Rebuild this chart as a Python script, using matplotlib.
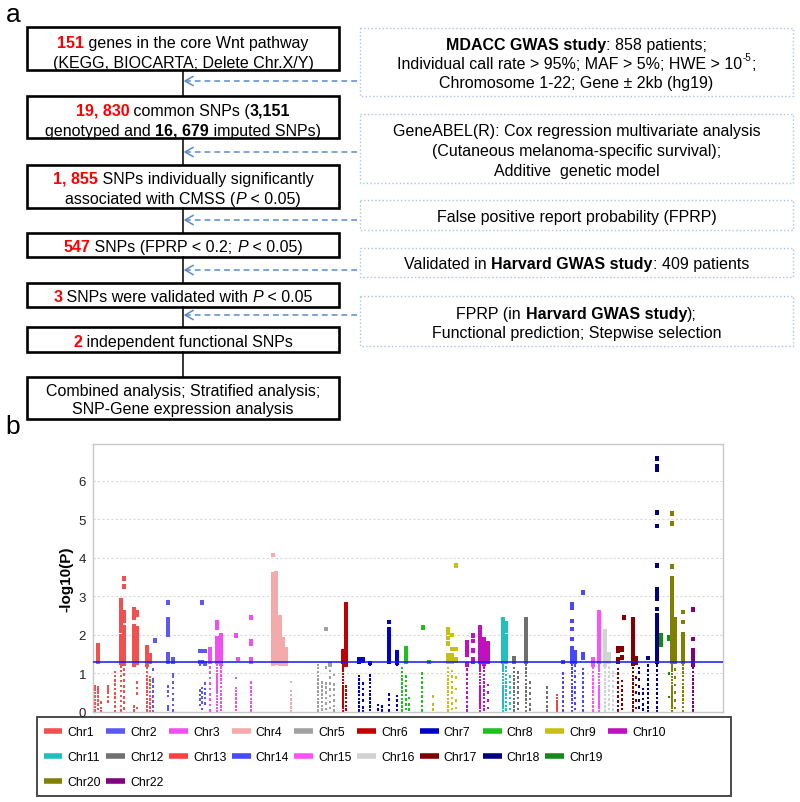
import matplotlib.pyplot as plt
from matplotlib.patches import Rectangle
from matplotlib.lines import Line2D

plt.rcParams['font.family'] = ['Liberation Sans', 'DejaVu Sans']

# ---------------- data: panel b (Manhattan plot), columns of (position, -log10 P values)
chr1_cols = [
    (2, [0.04, 0.13, 0.22, 0.31, 0.4, 0.49, 0.58, 0.67]),
    (5, [0.08, 0.19, 0.3, 0.41, 0.5, 0.57, 0.64, 1.31, 1.36, 1.42, 1.47, 1.53, 1.58, 1.64, 1.69, 1.74]),
    (8, [0.02, 0.1, 0.24]),
    (15, [0.28, 0.39, 0.5, 0.58, 0.67]),
    (22, [0.03, 0.14, 0.26, 0.37, 0.48, 0.6, 0.71, 0.82, 0.93, 1.04]),
    (28, [0.04, 0.16, 0.29, 0.42, 0.55, 0.68, 0.8, 0.93, 1.06, 1.18, 1.27, 1.33, 1.4, 1.47, 1.54, 1.61,
          1.68, 1.75, 1.82, 1.89, 1.96, 2.1, 2.17, 2.24, 2.31, 2.38, 2.45, 2.57, 2.64, 2.72, 2.8, 2.9]),
    (31, [0.09, 0.24, 0.38, 0.53, 0.67, 0.82, 0.97, 1.11, 1.26, 1.33, 1.41, 1.49, 1.57, 1.65, 1.73,
          1.81, 1.89, 1.97, 2.05, 2.13, 2.21, 2.36, 2.47, 2.58, 3.26, 3.47]),
    (41, [0.04, 0.14, 1.24, 1.3, 1.37, 1.44, 1.51, 1.58, 1.65, 1.72, 1.79, 1.86, 1.93, 2.0, 2.07,
          2.14, 2.22, 2.46, 2.54, 2.62, 2.67]),
    (44, [0.1, 0.48, 0.62, 0.76, 1.28, 1.36, 1.45, 1.54, 1.63, 1.72, 1.81, 1.9, 1.99, 2.08, 2.17, 2.52, 2.6]),
    (54, [0.04, 0.14, 0.24, 0.34, 0.44, 0.54, 0.64, 0.74, 0.84, 0.94, 1.04, 1.14, 1.24, 1.31, 1.38,
          1.45, 1.53, 1.61, 1.69]),
    (57, [0.02, 0.12, 0.22, 0.32, 0.42, 0.52, 0.62, 0.72, 0.82, 0.91, 1.3, 1.38, 1.46]),
]
chr2_cols = [
    (60, [0.02, 0.14, 0.27, 0.4, 0.53, 0.66, 0.79, 0.86, 1.1]),
    (62, [1.85]),
    (75, [0.06, 0.14, 0.42, 0.54, 0.66, 1.3, 1.36, 1.43, 1.49, 2.0, 2.06, 2.12, 2.18, 2.24, 2.3, 2.36, 2.41, 2.84]),
    (80, [0.04, 0.18, 0.33, 0.47, 0.62, 0.76, 0.91, 0.98, 1.3, 1.36]),
    (107, [0.18, 0.32, 0.44, 0.56, 1.22, 1.3, 1.58]),
    (109, [0.08, 0.24, 0.38, 0.5, 0.62, 1.3, 1.58, 2.84]),
    (112, [0.22, 0.36, 0.48, 0.6, 0.74, 1.26, 1.58]),
]
chr3_cols = [
    (117, [0.04, 0.18, 0.32, 0.46, 0.6, 0.74, 0.88, 1.02, 1.16, 1.3, 1.38, 1.46, 1.54, 1.62]),
    (124, [0.02, 0.1, 0.18, 0.26, 0.34, 0.42, 0.5, 0.58, 0.66, 0.74, 0.82, 0.9, 0.98, 1.06, 1.14, 1.22,
           1.3, 1.36, 1.43, 1.5, 1.57, 1.64, 1.71, 1.78, 1.85, 1.92, 2.18, 2.25, 2.32]),
    (128, [0.05, 0.15, 0.25, 0.35, 0.45, 0.55, 0.65, 0.75, 0.85, 0.95, 1.05, 1.15, 1.25, 1.32, 1.41,
           1.5, 1.59, 1.68, 1.77, 1.86, 1.95, 2.0]),
    (143, [0.05, 0.15, 0.25, 0.35, 0.45, 0.55, 0.62, 0.88, 1.98]),
    (145, [1.38]),
    (158, [0.04, 0.14, 0.24, 0.34, 0.44, 0.54, 0.64, 0.76, 1.3, 1.36, 1.78, 1.84, 2.46]),
]
chr4_cols = [
    (180, [1.25, 1.33, 1.41, 1.49, 1.57, 1.65, 1.73, 1.81, 1.89, 1.97, 2.05, 2.13, 2.21, 2.29, 2.37, 2.45,
           2.53, 2.61, 2.69, 2.77, 2.85, 2.93, 3.01, 3.09, 3.17, 3.25, 3.33, 3.41, 3.49, 3.57, 4.08]),
    (183, [1.27, 1.35, 1.43, 1.51, 1.59, 1.67, 1.75, 1.83, 1.91, 1.99, 2.07, 2.15, 2.23, 2.31, 2.39, 2.47,
           2.55, 2.63, 2.71, 2.79, 2.87, 2.95, 3.03, 3.11, 3.19, 3.27, 3.35, 3.43, 3.51, 3.6]),
    (187, [1.25, 1.33, 1.41, 1.49, 1.57, 1.65, 1.73, 1.81, 1.89, 1.97, 2.05, 2.13, 2.21, 2.29, 2.37, 2.45]),
    (190, [1.26, 1.34, 1.42, 1.5, 1.58, 1.66, 1.74, 1.82, 1.9]),
    (193, [1.25, 1.33, 1.41, 1.49, 1.57, 1.62]),
    (198, [0.02, 0.12, 0.22, 0.33, 0.44, 0.55, 0.78]),
]
chr5_cols = [
    (225, [0.04, 0.14, 0.24, 0.34, 0.44, 0.54, 0.64, 0.74, 0.84, 0.94, 1.04, 1.14, 1.22]),
    (229, [0.06, 0.16, 0.26, 0.36, 0.46, 0.56, 0.66, 0.76]),
    (233, [0.08, 0.22, 0.36, 0.5, 0.64, 0.74, 1.16, 2.16]),
    (237, [0.1, 0.26, 0.42, 0.58, 0.74, 0.9, 1.06, 1.24]),
    (241, [0.04, 0.16, 0.3, 0.44, 0.58, 0.72, 0.96]),
]
chr6_cols = [
    (250, [0.03, 0.11, 0.19, 0.27, 0.35, 0.43, 0.51, 0.59, 0.67, 0.75, 0.83, 0.91, 0.99, 1.07, 1.15,
           1.23, 1.3, 1.37, 1.44, 1.51, 1.58]),
    (253, [0.06, 0.16, 0.26, 0.36, 0.46, 0.56, 0.66, 1.24, 1.31, 1.38, 1.45, 1.52, 1.59, 1.66, 1.73,
           1.8, 1.87, 1.94, 2.01, 2.08, 2.15, 2.22, 2.29, 2.36, 2.43, 2.5, 2.57, 2.64, 2.71, 2.8]),
]
chr7_cols = [
    (266, [0.04, 0.14, 0.24, 0.34, 0.44, 0.54, 0.64, 0.74, 0.84, 0.94, 1.3, 1.38]),
    (270, [0.02, 0.12, 0.3, 0.46, 0.6, 0.74, 1.32, 1.38]),
    (277, [0.05, 0.15, 0.25, 0.35, 0.45, 0.55, 0.65, 0.75, 0.85, 0.95, 1.22, 1.27]),
    (285, [0.06, 0.18]),
    (289, [0.04, 0.14]),
    (296, [0.04, 0.18, 0.32, 0.46, 1.3, 1.37, 1.44, 1.51, 1.58, 1.65, 1.72, 1.79, 1.86, 1.93, 2.0,
           2.07, 2.14, 2.34]),
    (304, [0.05, 0.17, 0.3, 0.42, 1.22, 1.28, 1.35, 1.42, 1.49, 1.55]),
]
chr8_cols = [
    (309, [0.04, 0.14, 0.24, 0.34, 0.44, 0.54, 0.64, 0.74, 0.84, 0.94, 1.04, 1.14]),
    (313, [0.08, 0.2, 0.32, 0.44, 0.56, 0.68, 0.8, 0.92, 1.3, 1.37, 1.44, 1.51, 1.58, 1.65]),
    (316, [0.06, 0.2, 0.36]),
    (329, [0.04, 0.16, 0.28, 0.4, 0.52, 0.64, 0.76, 0.88, 1.0]),
    (330, [2.2]),
    (336, [1.3]),
]
chr9_cols = [
    (340, [0.06, 0.2, 0.4]),
    (355, [0.04, 0.14, 0.24, 0.34, 0.44, 0.54, 0.64, 0.74, 0.84, 0.94, 1.04, 1.14, 1.3, 1.36, 1.42,
           1.48, 1.78, 1.92, 2.06, 2.14]),
    (359, [0.08, 0.22, 0.36, 0.5, 0.64, 0.78, 0.92, 1.06, 1.3, 1.38, 1.46, 1.64, 2.0]),
    (363, [0.1, 0.3, 0.6, 0.9, 1.32, 1.38, 1.64, 3.8]),
]
chr10_cols = [
    (374, [0.04, 0.14, 0.26, 0.38, 0.5, 0.62, 0.74, 0.86, 0.98, 1.1, 1.24, 1.5, 1.58, 1.66, 1.74, 1.82]),
    (380, [1.3, 1.38, 1.6, 1.84, 1.98]),
    (387, [0.03, 0.11, 0.19, 0.27, 0.35, 0.43, 0.51, 0.59, 0.67, 0.75, 0.83, 0.91, 0.99, 1.07, 1.15,
           1.23, 1.3, 1.38, 1.46, 1.54, 1.62, 1.7, 1.78, 1.86, 1.94, 2.02, 2.1, 2.2]),
    (391, [0.06, 0.16, 0.26, 0.36, 0.46, 0.56, 0.66, 0.76, 0.86, 0.96, 1.06, 1.16, 1.26, 1.33, 1.41,
           1.49, 1.57, 1.65, 1.73, 1.81, 1.89]),
    (395, [0.1, 0.3, 0.5, 0.7, 1.3, 1.38, 1.46, 1.54, 1.62, 1.7, 1.78]),
]
chr11_cols = [
    (410, [0.03, 0.11, 0.19, 0.27, 0.35, 0.43, 0.51, 0.59, 0.67, 0.75, 0.83, 0.91, 0.99, 1.07, 1.15,
           1.23, 1.3, 1.38, 1.46, 1.54, 1.62, 1.7, 1.78, 1.86, 1.94, 2.02, 2.1, 2.18, 2.26, 2.34, 2.4]),
    (413, [0.06, 0.16, 0.26, 0.36, 0.46, 0.56, 0.66, 0.76, 0.86, 0.96, 1.06, 1.16, 1.3, 1.4, 1.5, 1.6,
           1.72, 1.84, 1.96, 2.1, 2.22, 2.3]),
    (417, [0.08, 0.22, 0.36, 0.5, 0.64, 0.78, 0.92]),
]
chr12_cols = [
    (421, [0.04, 0.14, 0.24, 0.34, 0.44, 0.54, 0.64, 0.74, 0.84, 0.94, 1.04, 1.14, 1.3, 1.36, 1.4]),
    (425, [0.08, 0.22, 0.36, 0.5, 0.64, 0.78, 0.9, 1.02]),
    (433, [0.03, 0.13, 0.23, 0.33, 0.43, 0.53, 0.63, 0.73, 0.83, 0.93, 1.03, 1.13, 1.23, 1.3, 1.38,
           1.46, 1.54, 1.62, 1.7, 1.78, 1.86, 1.94, 2.02, 2.1, 2.18, 2.26, 2.34, 2.4]),
    (437, [0.06, 0.2, 0.34, 0.48, 0.62, 0.76]),
    (454, [0.04, 0.14, 0.26, 0.38, 0.5, 0.64]),
]
chr13_cols = [
    (464, [0.04, 0.12, 0.2, 0.28, 0.36, 0.44]),
]
chr14_cols = [
    (470, [0.04, 0.16, 0.28, 0.4, 0.52, 0.64, 0.76, 0.88, 1.0, 1.3]),
    (479, [0.03, 0.13, 0.23, 0.33, 0.43, 0.53, 0.63, 0.73, 0.83, 0.93, 1.03, 1.13, 1.23, 1.3, 1.37,
           1.44, 1.51, 1.58, 1.65, 1.9, 2.16, 2.36, 2.72, 2.8]),
    (482, [0.08, 0.22, 0.36, 0.5, 0.64, 0.78, 0.92, 1.06, 1.2, 1.3, 1.38, 1.46, 1.56]),
    (490, [0.04, 0.16, 0.28, 0.4, 0.52, 0.64, 0.76, 0.88, 1.0, 1.12, 1.4, 1.5, 3.1]),
]
chr15_cols = [
    (500, [0.04, 0.14, 0.24, 0.34, 0.44, 0.54, 0.64, 0.74, 0.84, 0.94, 1.04, 1.14, 1.24, 1.3, 1.36]),
    (506, [0.03, 0.11, 0.19, 0.27, 0.35, 0.43, 0.51, 0.59, 0.67, 0.75, 0.83, 0.91, 0.99, 1.07, 1.15,
           1.23, 1.3, 1.38, 1.46, 1.54, 1.62, 1.7, 1.78, 1.86, 1.94, 2.02, 2.1, 2.18, 2.26, 2.34,
           2.42, 2.5, 2.6]),
]
chr16_cols = [
    (512, [0.04, 0.14, 0.24, 0.34, 0.44, 0.54, 0.64, 0.74, 0.84, 0.94, 1.04, 1.14, 1.24, 1.32, 1.4,
           1.48, 1.56, 1.64, 1.72, 1.8, 1.88, 1.96, 2.04, 2.1]),
    (516, [0.08, 0.2, 0.32, 0.44, 0.56, 0.68, 0.8, 0.92, 1.04, 1.16, 1.3, 1.4, 1.5]),
    (520, [0.06, 0.18, 0.3, 0.42, 0.54, 0.66, 0.8, 0.94, 1.02]),
]
chr17_cols = [
    (525, [0.04, 0.16, 0.28, 0.4, 0.52, 0.64, 0.76, 0.88, 1.0, 1.12, 1.3, 1.38, 1.6, 1.65]),
    (529, [0.08, 0.2, 0.32, 0.44, 0.56, 0.68, 0.8, 1.42, 1.62, 1.66]),
    (531, [2.46]),
    (540, [0.04, 0.14, 0.24, 0.34, 0.44, 0.54, 0.64, 0.74, 0.84, 0.94, 1.04, 1.14, 1.26, 1.3, 1.38,
           1.46, 1.54, 1.62, 1.7, 1.78, 1.86, 1.94, 2.02, 2.1, 2.18, 2.26, 2.32, 2.4]),
    (543, [0.1, 0.3, 0.5, 0.7, 0.9, 1.28, 1.34, 1.4]),
]
chr18_cols = [
    (546, [0.12, 0.3, 0.48, 0.66, 0.84, 1.02, 1.14]),
    (550, [0.06, 0.2, 0.34, 0.48, 0.6]),
    (555, [0.02, 0.12, 0.24, 0.36, 0.48, 0.6, 0.72, 0.84, 0.96, 1.08, 1.2, 1.4]),
    (564, [0.03, 0.12, 0.24, 0.36, 0.48, 0.6, 0.72, 0.84, 0.96, 1.08, 1.2, 1.3, 1.37, 1.44, 1.51,
           1.58, 1.65, 1.72, 1.79, 1.86, 1.93, 2.0, 2.07, 2.14, 2.21, 2.28, 2.35, 2.42, 2.5, 2.68,
           2.94, 3.02, 3.1, 3.18, 3.81, 4.83, 5.18, 6.3, 6.37, 6.58]),
]
chr19_cols = [
    (568, [1.76, 1.82, 1.88, 1.94, 2.0]),
    (576, [0.39, 1.0, 1.9, 1.95]),
]
chr20_cols = [
    (579, [0.03, 0.11, 0.19, 0.27, 0.35, 0.43, 0.51, 0.59, 0.67, 0.75, 0.83, 0.91, 0.99, 1.07, 1.15,
           1.23, 1.3, 1.37, 1.44, 1.51, 1.58, 1.65, 1.72, 1.79, 1.86, 1.93, 2.0, 2.08, 2.16, 2.24,
           2.32, 2.4, 2.5, 2.6, 2.7, 2.8, 2.9, 3.0, 3.08, 3.16, 3.29, 3.38, 3.46, 3.78, 4.89, 5.15]),
    (582, [0.1, 0.3, 0.5, 0.7, 0.9, 1.1, 1.3, 1.4, 1.5, 1.6, 1.7, 1.8, 1.9, 2.0, 2.1, 2.2, 2.3, 2.4]),
    (590, [0.03, 0.13, 0.23, 0.33, 0.43, 0.53, 0.63, 0.73, 0.83, 0.93, 1.03, 1.13, 1.23, 1.3, 1.38,
           1.46, 1.54, 1.62, 1.7, 1.78, 1.86, 1.94, 2.02, 2.34, 2.6]),
]
chr22_cols = [
    (600, [0.04, 0.14, 0.24, 0.34, 0.44, 0.54, 0.64, 0.74, 0.84, 0.94, 1.04, 1.14, 1.24, 1.3, 1.36,
           1.42, 1.48, 1.54, 1.6, 1.9, 2.66]),
]

chrom_names = ['Chr1', 'Chr2', 'Chr3', 'Chr4', 'Chr5', 'Chr6', 'Chr7', 'Chr8', 'Chr9', 'Chr10',
               'Chr11', 'Chr12', 'Chr13', 'Chr14', 'Chr15', 'Chr16', 'Chr17', 'Chr18', 'Chr19',
               'Chr20', 'Chr22']
chrom_colors = ['#F24F4F', '#5A5AF2', '#F050F0', '#F4AAAA', '#A0A0A0', '#C00000', '#0000C8',
                '#1EC01E', '#C8C010', '#C010C0', '#20C0C0', '#707070', '#FF4040', '#4848FF',
                '#FF50FF', '#D2D2D2', '#800000', '#000080', '#168A16', '#808000', '#800080']
chrom_cols = [chr1_cols, chr2_cols, chr3_cols, chr4_cols, chr5_cols, chr6_cols, chr7_cols,
              chr8_cols, chr9_cols, chr10_cols, chr11_cols, chr12_cols, chr13_cols, chr14_cols,
              chr15_cols, chr16_cols, chr17_cols, chr18_cols, chr19_cols, chr20_cols, chr22_cols]
threshold = 1.3  # -log10(0.05)

# ---------------- data: panel a (flow chart text)
left_texts = [
    [[('151', 'RB'), ' genes in the core Wnt pathway'], ['(KEGG, BIOCARTA; Delete Chr.X/Y)']],
    [[('19, 830', 'RB'), ' common SNPs (', ('3,151', 'B')],
     ['genotyped and ', ('16, 679', 'B'), ' imputed SNPs)']],
    [[('1, 855', 'RB'), ' SNPs individually significantly'],
     ['associated with CMSS (', ('P', 'I'), ' < 0.05)']],
    [[('547', 'RB'), ' SNPs (FPRP < 0.2; ', ('P', 'I'), ' < 0.05)']],
    [[('3', 'RB'), ' SNPs were validated with ', ('P', 'I'), ' < 0.05']],
    [[('2', 'RB'), ' independent functional SNPs']],
    [['Combined analysis; Stratified analysis;'], ['SNP-Gene expression analysis']],
]
right_texts = [
    [[('MDACC GWAS study', 'B'), ': 858 patients;'],
     ['Individual call rate > 95%; MAF > 5%; HWE > 10', ('-5', 'S'), ';'],
     ['Chromosome 1-22; Gene \u00b1 2kb (hg19)']],
    [['GeneABEL(R): Cox regression multivariate analysis'],
     ['(Cutaneous melanoma-specific survival);'],
     ['Additive  genetic model']],
    [['False positive report probability (FPRP)']],
    [['Validated in ', ('Harvard GWAS study', 'B'), ': 409 patients']],
    [['FPRP (in ', ('Harvard GWAS study', 'B'), ');'],
     ['Functional prediction; Stepwise selection']],
]

# ---------------- layout (pixels)
W, H = 800, 803
left_boxes = [(28, 71), (97, 139), (166, 209), (234, 258), (284, 308), (328, 353), (378, 420)]
left_lines = [[42, 62], [110, 130], [178, 198], [246], [296], [341], [390, 408]]
right_boxes = [(29, 97), (115, 184), (201, 231), (249, 278), (297, 347)]
right_lines = [[44, 63, 82], [130, 150, 170], [216], [263.5], [313, 332]]
arrow_ys = [82, 153, 221, 271, 316]
LX0, LX1 = 27, 339
RX0, RX1 = 360, 793
CX = (LX0 + LX1) / 2

fig = plt.figure(figsize=(W / 100, H / 100), dpi=100)
canvas = fig.add_axes([0, 0, 1, 1])
canvas.set_xlim(0, W)
canvas.set_ylim(H, 0)
canvas.axis('off')
renderer = fig.canvas.get_renderer()


def seg_width(s, **kw):
    t = canvas.text(0, 0, 'a' + s + 'a', **kw)
    w = t.get_window_extent(renderer).width
    t.set_text('aa')
    w -= t.get_window_extent(renderer).width
    t.remove()
    return w


def rich_line(xc, yc, parts, fs=11.5):
    styled = []
    for p in parts:
        if isinstance(p, str):
            p = (p, '')
        txt, st = p
        kw = dict(fontsize=fs, color='black')
        dy = 0
        if 'B' in st:
            kw['fontweight'] = 'bold'
        if 'R' in st:
            kw['color'] = '#FF0000'
        if 'I' in st:
            kw['fontstyle'] = 'italic'
        if 'S' in st:
            kw['fontsize'] = fs * 0.62
            dy = -fs * 0.5 * 100 / 72
        styled.append((txt, kw, dy))
    widths = [seg_width(t, **kw) for t, kw, _ in styled]
    x = xc - sum(widths) / 2
    base = yc + fs * 0.36 * 100 / 72
    for (t, kw, dy), w in zip(styled, widths):
        canvas.text(x, base + dy, t, ha='left', va='baseline', **kw)
        x += w


# panel labels
canvas.text(6, 22, 'a', fontsize=19, ha='left', va='baseline')
canvas.text(5, 434, 'b', fontsize=19, ha='left', va='baseline')

# left flow boxes + connectors
for i, ((y0, y1), lines, texts) in enumerate(zip(left_boxes, left_lines, left_texts)):
    canvas.add_patch(Rectangle((LX0, y0), LX1 - LX0, y1 - y0, fill=False, edgecolor='black', lw=1.9))
    for yc, parts in zip(lines, texts):
        rich_line(CX, yc, parts)
    if i + 1 < len(left_boxes):
        canvas.plot([CX, CX], [y1, left_boxes[i + 1][0]], color='black', lw=1.1)

# right info boxes
for (y0, y1), lines, texts in zip(right_boxes, right_lines, right_texts):
    canvas.add_patch(Rectangle((RX0, y0), RX1 - RX0, y1 - y0, fill=False,
                               edgecolor='#A9C3E6', lw=1.0, linestyle=':'))
    for yc, parts in zip(lines, texts):
        rich_line((RX0 + RX1) / 2, yc, parts)

# dashed arrows
for ya in arrow_ys:
    canvas.plot([CX + 2, RX0], [ya, ya], color='#5A8BCB', lw=1.1, dashes=(3.8, 2.6))
    canvas.plot([CX + 10, CX + 2, CX + 10], [ya - 4.5, ya, ya + 4.5], color='#5A8BCB', lw=1.1)

# ---------------- panel b
ax = fig.add_axes([93 / W, 1 - 713 / H, 630 / W, 268 / H])
for name, color, cols in zip(chrom_names, chrom_colors, chrom_cols):
    xs, ys, ss = [], [], []
    for xpos, vals in cols:
        for v in vals:
            xs.append(xpos)
            ys.append(v)
            ss.append(11 if v >= 1.24 else 3.5)
    ax.scatter(xs, ys, s=ss, c=color, marker='s', linewidths=0, zorder=2)

ax.axhline(threshold, color='#1414FF', lw=1.1, zorder=3)
ax.set_xlim(0, 630)
ax.set_ylim(0, 6.96)
ax.set_xticks([])
ax.set_yticks(range(7))
ax.tick_params(axis='y', length=0, pad=5, labelsize=9.5, labelcolor='#222222')
ax.grid(axis='y', color='#D8D8D8', lw=0.8, dashes=(2, 2))
ax.set_axisbelow(True)
for sp in ax.spines.values():
    sp.set_color('#C8C8C8')
    sp.set_linewidth(1.0)
ax.set_ylabel('-log10(P)', fontsize=11, fontweight='bold')
ax.yaxis.set_label_coords(-0.031, 0.5)

# legend (reordered so that rows read Chr1..Chr10, Chr11..Chr19, Chr20, Chr22)
handles = {n: Line2D([0], [0], color=c, lw=4, solid_capstyle='butt')
           for n, c in zip(chrom_names, chrom_colors)}
rows = [chrom_names[:10], chrom_names[10:19], chrom_names[19:]]
order_h, order_l = [], []
for col in range(10):
    for r in rows:
        if col < len(r):
            order_h.append(handles[r[col]])
            order_l.append(r[col])
        elif col == 9 and r is rows[1]:
            order_h.append(Line2D([0], [0], color='none'))
            order_l.append('')
fig.legend(order_h, order_l, loc='upper left', bbox_to_anchor=(38 / W, 1 - 722 / H),
           ncol=10, frameon=False, fontsize=8.8, handlelength=1.55, handletextpad=0.4,
           columnspacing=0.45, labelspacing=1.05, borderpad=0.45, borderaxespad=0)
canvas.add_patch(Rectangle((37, 718), 694, 79, fill=False, edgecolor='#4A4A4A', lw=1.4))

fig.savefig('out.png', dpi=100)
